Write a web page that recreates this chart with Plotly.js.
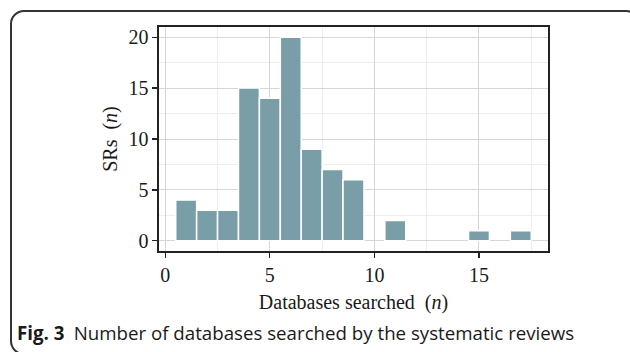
<!DOCTYPE html>
<html>
<head>
<meta charset="utf-8">
<script src="https://cdn.plot.ly/plotly-3.0.1.min.js"></script>
<style>
  html, body { margin: 0; padding: 0; background: #ffffff; overflow: hidden; }
  #frame { position: absolute; left: 10px; top: 10px; width: 630px; height: 345px;
           border: 2px solid #333333; border-radius: 14px; box-sizing: border-box; }
  #chart { position: absolute; left: 0; top: 0; width: 630px; height: 352px; }
</style>
</head>
<body>
<div id="frame"></div>
<div id="chart"></div>
<script>
// Number of databases searched (bin centre) and count of SRs
const databases = [1, 2, 3, 4, 5, 6, 7, 8, 9, 11, 15, 17];
const srCounts  = [4, 3, 3, 15, 14, 20, 9, 7, 6, 2, 1, 1];
const xTickVals = [0, 5, 10, 15];
const yTickVals = [0, 5, 10, 15, 20];
const xTitle = 'Databases searched\u2002(<i>n</i>)';
const yTitle = 'SRs\u2002(<i>n</i>)';
const caption = '<b>Fig. 3</b>\u2002Number of databases searched by the systematic reviews';

const serif = 'Liberation Serif, Times New Roman, serif';

const trace = {
  type: 'bar',
  x: databases,
  y: srCounts,
  width: 1,
  marker: { color: '#7a9ea7', line: { color: '#ffffff', width: 1.5 } },
  hoverinfo: 'x+y'
};

const layout = {
  width: 630, height: 352,
  margin: { l: 159, r: 82, t: 27, b: 101 },
  paper_bgcolor: 'rgba(0,0,0,0)',
  plot_bgcolor: '#ffffff',
  showlegend: false,
  bargap: 0,
  xaxis: {
    range: [-0.3, 18.3],
    tickvals: xTickVals,
    ticktext: xTickVals.map(String),
    ticks: 'outside', ticklen: 5, tickwidth: 1.3, tickcolor: '#222222',
    showline: true, linecolor: '#222222', linewidth: 1.6, mirror: true,
    showgrid: true, gridcolor: '#d6d6d6', gridwidth: 1,
    minor: { dtick: 2.5, tick0: 0, showgrid: true, gridcolor: '#ededed', gridwidth: 1 },
    zeroline: false,
    tickfont: { family: serif, size: 20, color: '#1a1a1a' },
    title: { text: xTitle, font: { family: serif, size: 20, color: '#1a1a1a' }, standoff: 10 }
  },
  yaxis: {
    range: [-1, 21],
    tickvals: yTickVals,
    ticktext: yTickVals.map(String),
    ticks: 'outside', ticklen: 5, tickwidth: 1.3, tickcolor: '#222222',
    showline: true, linecolor: '#222222', linewidth: 1.6, mirror: true,
    showgrid: true, gridcolor: '#d6d6d6', gridwidth: 1,
    minor: { dtick: 2.5, tick0: 0, showgrid: true, gridcolor: '#ededed', gridwidth: 1 },
    zeroline: false,
    tickfont: { family: serif, size: 20, color: '#1a1a1a' },
    title: { text: yTitle, font: { family: serif, size: 20, color: '#1a1a1a' }, standoff: 5 }
  },
  annotations: [{
    text: caption,
    xref: 'paper', yref: 'paper',
    x: -0.371, y: -0.365,
    xanchor: 'left', yanchor: 'middle',
    showarrow: false,
    font: { family: 'Open Sans, Noto Sans, sans-serif', size: 18.7, color: '#1a1a1a' }
  }]
};

Plotly.newPlot('chart', [trace], layout, { displayModeBar: false, staticPlot: true });
</script>
</body>
</html>
